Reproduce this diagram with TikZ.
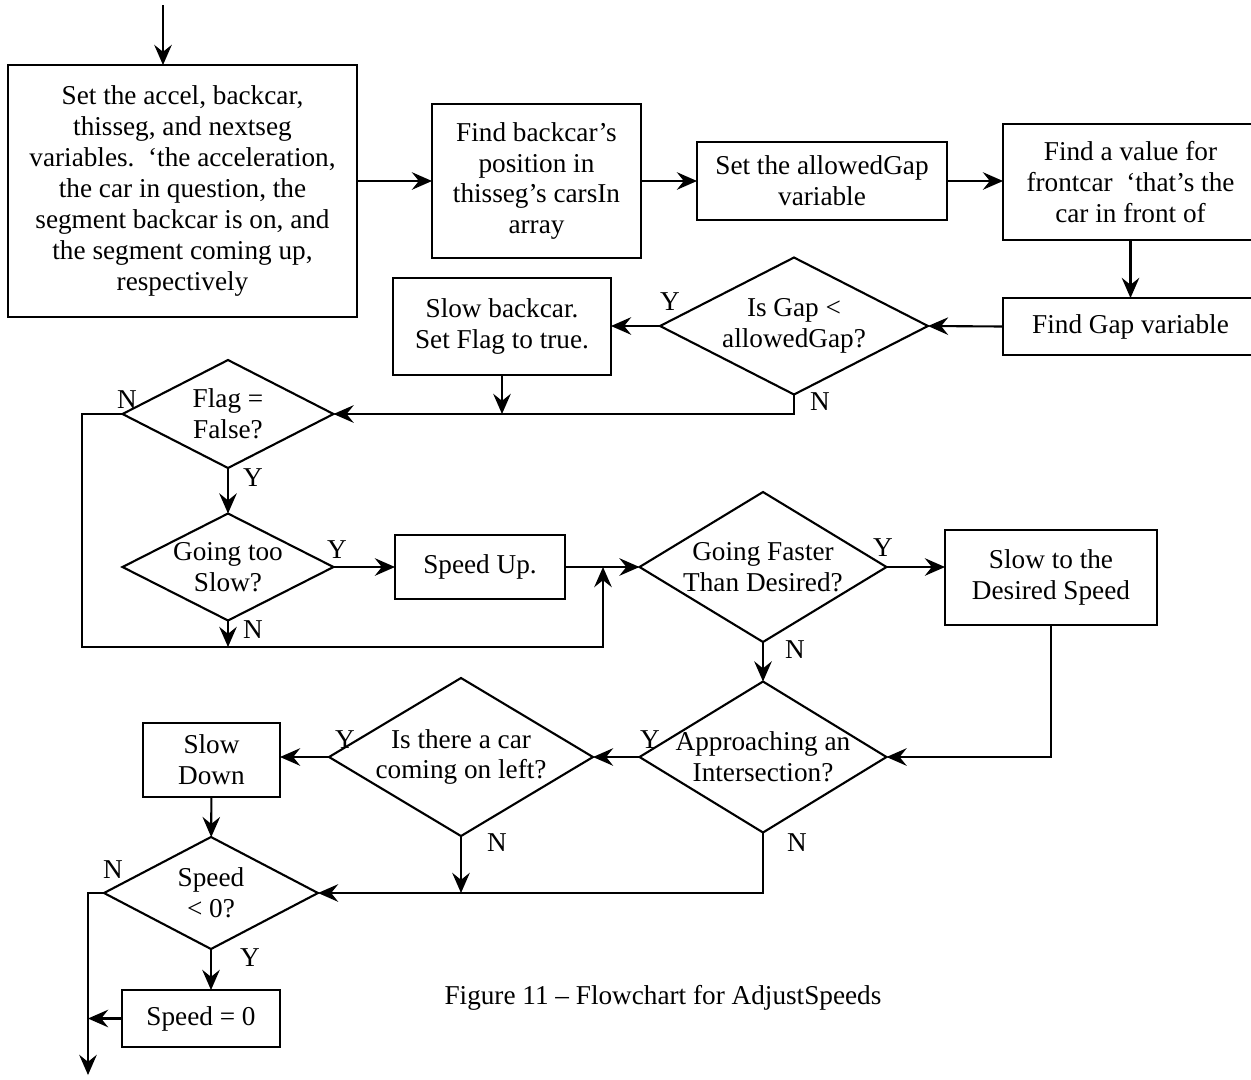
\documentclass[tikz,border=0pt]{standalone}
\usepackage{fontspec}
\setmainfont{Liberation Serif}
\usetikzlibrary{arrows.meta, shapes.geometric}
\tikzset{
        ->,  % every connector is directed
        >={Stealth[length=11.5pt,width=10pt,inset=4pt]}, % barbed heads
        every node/.style={font=\fontsize{15.5}{17.6}\selectfont},
        box/.style={draw, rectangle, align=center, inner sep=2pt, outer sep=0pt},
        dec/.style={draw, diamond, align=center, inner sep=0pt, outer sep=0pt},
        yn/.style={inner sep=0pt}
        }
\begin{document}
\begin{tikzpicture}[x=0.02cm, y=-0.02cm, line width=1.2pt]
        \useasboundingbox (0,0) rectangle (1251,1079);
        % top row
        \node[box, minimum width=6.98cm, minimum height=5.04cm](b0) at (182.5,191)
          {Set the accel, backcar,\\thisseg, and nextseg\\variables.\ \ ‘the acceleration,\\the car in question, the\\segment backcar is on, and\\the segment coming up,\\respectively};
        \node[box, minimum width=4.18cm, minimum height=3.08cm](b1) at (536.5,181)
          {Find backcar’s\\position in\\thisseg’s carsIn\\array};
        \node[box, minimum width=5cm, minimum height=1.56cm](b2) at (822,181)
          {Set the allowedGap\\variable};
        \node[box, minimum width=5.1cm, minimum height=2.32cm](b3) at (1130.5,182)
          {Find a value for\\frontcar\ \ ‘that’s the\\car in front of};
        \node[box, minimum width=5.1cm, minimum height=1.14cm](b4) at (1130.5,326.5)
          {Find Gap variable};
        \node[dec, aspect=1.96, minimum width=5.36cm, minimum height=2.74cm](d0) at (794,326)
          {Is Gap <\\allowedGap?};
        \node[box, minimum width=4.36cm, minimum height=1.94cm](b5) at (502,326.5)
          {Slow backcar.\\Set Flag to true.};
        % middle
        \node[dec, aspect=1.95, minimum width=4.22cm, minimum height=2.16cm](d1) at (228,414)
          {Flag =\\False?};
        \node[dec, aspect=1.97, minimum width=4.22cm, minimum height=2.14cm](d2) at (228,567)
          {Going too\\Slow?};
        \node[box, minimum width=3.4cm, minimum height=1.28cm](b6) at (480,567)
          {Speed Up.};
        \node[dec, aspect=1.65, minimum width=4.94cm, minimum height=3cm](d3) at (763,567)
          {Going Faster\\Than Desired?};
        \node[box, minimum width=4.24cm, minimum height=1.9cm](b7) at (1051,577.5)
          {\raisebox{5pt}{\begin{tabular}{@{}c@{}}Slow to the\\Desired Speed\end{tabular}}};
        % bottom
        \node[dec, aspect=1.64, inner sep=-4pt, minimum width=4.94cm, minimum height=3.02cm](d4) at (763,757)
          {Approaching an\\Intersection?};
        \node[dec, aspect=1.67, minimum width=5.04cm, minimum height=3.02cm](d5) at (461,757)
          {Is there a car\\coming on left?};
        \node[box, minimum width=2.74cm, minimum height=1.48cm](b8) at (211.5,760)
          {Slow\\Down};
        \node[dec, aspect=1.91, minimum width=4.28cm, minimum height=2.24cm](d6) at (211,893)
          {Speed\\< 0?};
        \node[box, minimum width=3.16cm, minimum height=1.14cm](b9) at (201,1018.5)
          {Speed = 0};
        \node(cap) at (663,998) {Figure 11 – Flowchart for AdjustSpeeds};

        \coordinate (in) at (163,5);
        \coordinate (j1) at (603,567);
        \coordinate (lp) at (82,647);
        \coordinate (out) at (88,1075);

        \draw (in) -- (in |- b0.north);
        \draw (b0.east |- b1) -- (b1.west);
        \draw (b1) -- (b2);
        \draw (b2.east) -- (b2.east -| b3.west);
        \draw (b3) -- (b4);
        \draw (b4.west) -- (d0.east);
        \draw (d0.west) -- (b5.east |- d0.west);
        \draw (b5) -- (b5 |- d1.east);
        \draw (d0.south) |- (d1.east);
        \draw (d1.west) -| (lp) -| (j1);
        \draw (d1) -- (d2);
        \draw (d2.south) -- (d2.south |- lp);
        \draw (d2.east) -- (b6.west);
        \draw (b6) -- (d3);
        \draw (d3.east) -- (d3.east -| b7.west);
        \draw (b7.south) |- (d4.east);
        \draw (d3) -- (d4);
        \draw (d4) -- (d5);
        \draw (d5.west) -- (b8.east |- d5.west);
        \draw (b8) -- (d6);
        \draw (d5.south) -- (d5.south |- d6.east);
        \draw (d4.south) |- (d6.east);
        \draw (d6.west) -| (out);
        \draw (d6.south) -- (d6.south |- b9.north);
        \draw (b9.west) -- (b9.west -| out);

        % yes / no marks
        \node[yn](y0) at (670,302) {Y};
        \node[yn](n0) at (820,402) {N};
        \node[yn](n1) at (127,400) {N};
        \node[yn](y1) at (253,478) {Y};
        \node[yn](y2) at (337,550) {Y};
        \node[yn](n2) at (253,630) {N};
        \node[yn](y3) at (883,548) {Y};
        \node[yn](n3) at (795,650) {N};
        \node[yn](y4) at (650,740) {Y};
        \node[yn](n4) at (797,843) {N};
        \node[yn](y5) at (345,740) {Y};
        \node[yn](n5) at (497,843) {N};
        \node[yn](n6) at (113,870) {N};
        \node[yn](y6) at (250,958) {Y};
      \end{tikzpicture}
\end{document}
